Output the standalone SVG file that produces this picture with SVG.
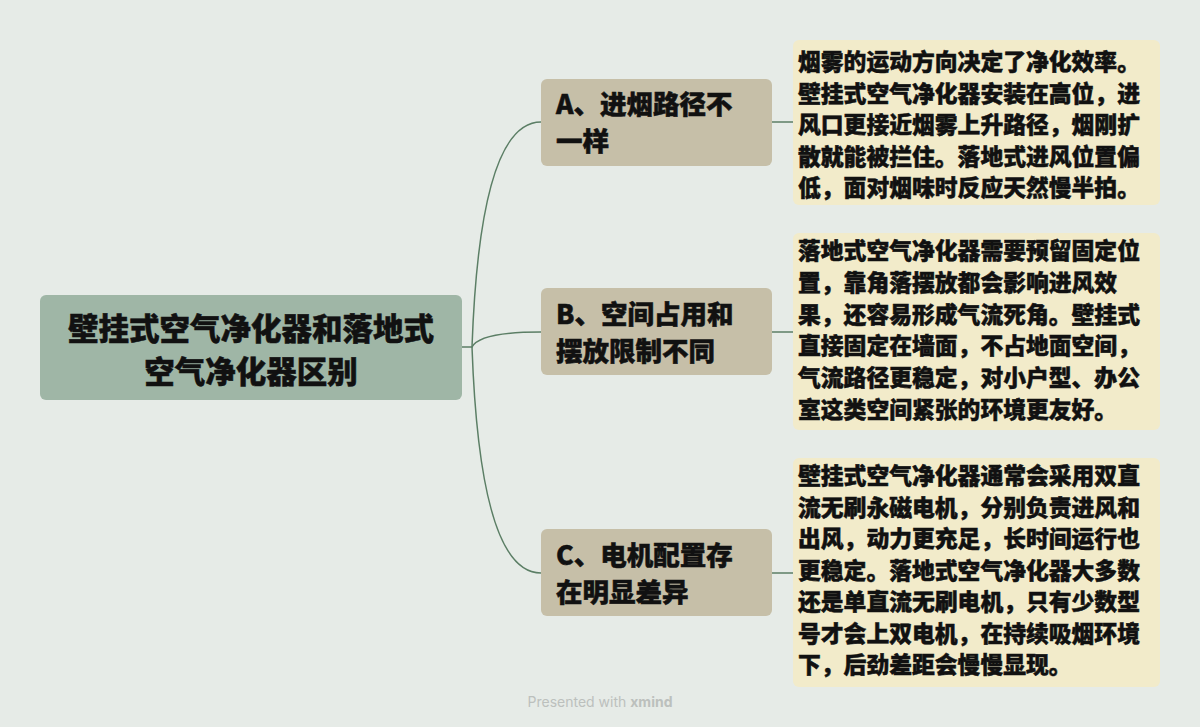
<svg xmlns="http://www.w3.org/2000/svg" width="1200" height="727" viewBox="0 0 1200 727">
<style>
.t{font-family:"Noto Sans CJK SC","Noto Sans",sans-serif;font-weight:900;fill:#111;stroke:#111;stroke-width:0.5}
.root{font-size:30.5px}
.br{font-size:26.5px}
.d{font-size:22.8px}
.c{fill:none;stroke:#5b7e65;stroke-width:1.5}
</style>
<rect width="1200" height="727" fill="#e6ebe7"/>
<g id="connectors">
<path class="c" d="M462,347 L472,347 Q480,122 541,122"/>
<path class="c" d="M472,347 Q480,332 541,332"/>
<path class="c" d="M472,347 Q480,573 541,573"/>
<path class="c" d="M772,122 L793,122"/>
<path class="c" d="M772,332 L793,332"/>
<path class="c" d="M772,573 L793,573"/>
</g>
<g id="root">
<rect x="40" y="295" width="422" height="105" rx="6" fill="#9fb6a6"/>
<text class="t root" text-anchor="middle"><tspan x="251" y="339.5">壁挂式空气净化器和落地式</tspan><tspan x="251" y="382.5">空气净化器区别</tspan></text>
</g>
<g id="branchA">
<rect x="541" y="79" width="231" height="87" rx="6" fill="#c6bfa8"/>
<text class="t br"><tspan x="556" y="114">A、进烟路径不</tspan><tspan x="556" y="151">一样</tspan></text>
</g>
<g id="branchB">
<rect x="541" y="288" width="231" height="87" rx="6" fill="#c6bfa8"/>
<text class="t br"><tspan x="556" y="324">B、空间占用和</tspan><tspan x="556" y="361">摆放限制不同</tspan></text>
</g>
<g id="branchC">
<rect x="541" y="529" width="231" height="87" rx="6" fill="#c6bfa8"/>
<text class="t br"><tspan x="556" y="565">C、电机配置存</tspan><tspan x="556" y="602">在明显差异</tspan></text>
</g>
<g id="detailA">
<rect x="793" y="40" width="367" height="165" rx="6" fill="#f2ebca"/>
<text class="t d"><tspan x="798" y="70">烟雾的运动方向决定了净化效率。</tspan><tspan x="798" y="101.6">壁挂式空气净化器安装在高位，进</tspan><tspan x="798" y="133.2">风口更接近烟雾上升路径，烟刚扩</tspan><tspan x="798" y="164.8">散就能被拦住。落地式进风位置偏</tspan><tspan x="798" y="196.4">低，面对烟味时反应天然慢半拍。</tspan></text>
</g>
<g id="detailB">
<rect x="793" y="233" width="367" height="197" rx="6" fill="#f2ebca"/>
<text class="t d"><tspan x="798" y="259">落地式空气净化器需要预留固定位</tspan><tspan x="798" y="290.8">置，靠角落摆放都会影响进风效</tspan><tspan x="798" y="322.6">果，还容易形成气流死角。壁挂式</tspan><tspan x="798" y="354.4">直接固定在墙面，不占地面空间，</tspan><tspan x="798" y="386.2">气流路径更稳定，对小户型、办公</tspan><tspan x="798" y="418">室这类空间紧张的环境更友好。</tspan></text>
</g>
<g id="detailC">
<rect x="793" y="458" width="367" height="229" rx="6" fill="#f2ebca"/>
<text class="t d"><tspan x="798" y="484">壁挂式空气净化器通常会采用双直</tspan><tspan x="798" y="515.5">流无刷永磁电机，分别负责进风和</tspan><tspan x="798" y="547">出风，动力更充足，长时间运行也</tspan><tspan x="798" y="578.5">更稳定。落地式空气净化器大多数</tspan><tspan x="798" y="610">还是单直流无刷电机，只有少数型</tspan><tspan x="798" y="641.5">号才会上双电机，在持续吸烟环境</tspan><tspan x="798" y="673">下，后劲差距会慢慢显现。</tspan></text>
</g>
<text x="600" y="707" text-anchor="middle" font-family="Inter,'Noto Sans',sans-serif" font-size="14" fill="#bcc0bd">Presented with <tspan font-weight="700">xmind</tspan></text>
</svg>
